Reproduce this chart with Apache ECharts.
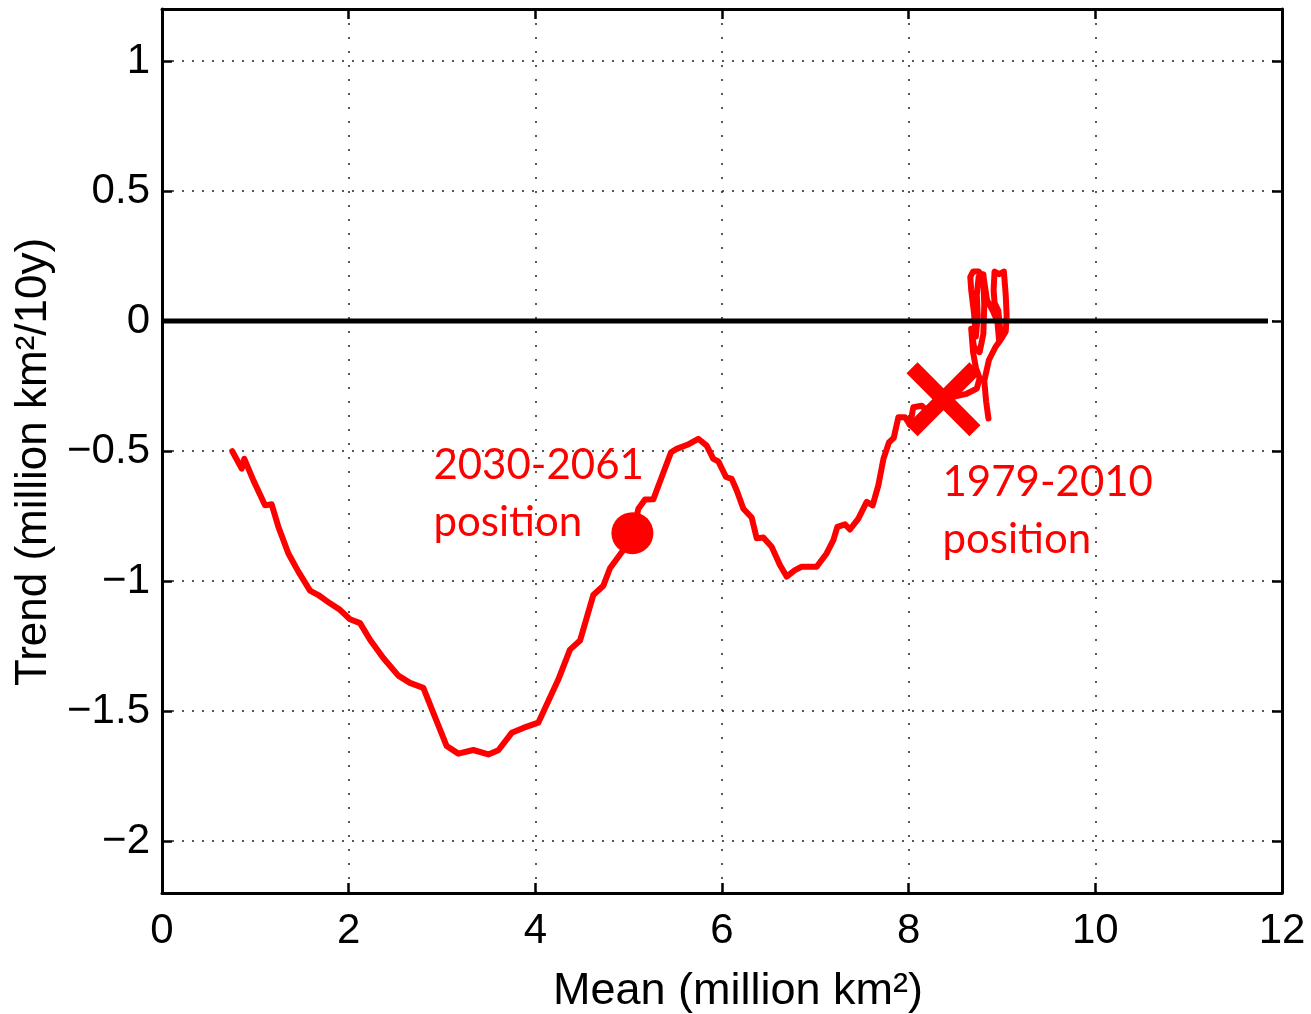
<!DOCTYPE html>
<html>
<head>
<meta charset="utf-8">
<script src="https://cdn.jsdelivr.net/npm/echarts@6/dist/echarts.min.js"></script>
<style>
html,body{margin:0;padding:0;background:#fff;}
#chart{width:1311px;height:1014px;}
</style>
</head>
<body>
<div id="chart"></div>
<script>
// ---- data ----
const meanValues = [
  8.855, 8.83, 8.81, 8.86, 8.93, 8.99, 9.04, 9.05, 9.04, 9.02, 8.97, 8.92, 8.91, 8.92, 8.96, 8.98, 8.97,
  8.95, 8.90, 8.84, 8.81, 8.80, 8.75, 8.73, 8.74, 8.72, 8.70, 8.67, 8.66, 8.69, 8.75, 8.80, 8.81, 8.80,
  8.76, 8.70, 8.67, 8.69, 8.72, 8.76, 8.73, 8.62, 8.50, 8.38, 8.26, 8.18, 8.14, 8.05, 8.015, 7.96, 7.89,
  7.84, 7.79, 7.73, 7.675, 7.614, 7.55, 7.461, 7.371, 7.318, 7.236, 7.193, 7.121, 7.014, 6.854, 6.782,
  6.693, 6.622, 6.532, 6.443, 6.372, 6.318, 6.229, 6.157, 6.104, 6.043, 5.961, 5.907, 5.836, 5.746,
  5.629, 5.514, 5.454, 5.354, 5.264, 5.175, 5.104, 5.043, 4.943, 4.800, 4.729, 4.621, 4.479, 4.371,
  4.246, 4.032, 3.871, 3.747, 3.604, 3.496, 3.336, 3.175, 3.050, 2.907, 2.800, 2.657, 2.532, 2.371,
  2.229, 2.122, 2.014, 1.907, 1.800, 1.675, 1.586, 1.461, 1.354, 1.247, 1.175, 1.104, 0.979, 0.882,
  0.854, 0.753
];
const trendValues = [
  -0.375, -0.31, -0.23, -0.15, -0.10, -0.07, -0.04, 0.02, 0.10, 0.19, 0.18, 0.19, 0.12, 0.07, 0.04, -0.03, -0.08,
  0.00, 0.04, 0.08, 0.15, 0.18, 0.17, 0.10, 0.02, -0.06, 0.03, 0.12, 0.17, 0.19, 0.19, 0.17, 0.06, -0.05,
  -0.12, -0.10, -0.03, -0.12, -0.18, -0.22, -0.26, -0.28, -0.29, -0.31, -0.33, -0.34, -0.326, -0.332, -0.40, -0.37, -0.37,
  -0.45, -0.466, -0.53, -0.632, -0.709, -0.696, -0.760, -0.802, -0.782, -0.792, -0.843, -0.894, -0.945, -0.945, -0.958,
  -0.983, -0.939, -0.868, -0.833, -0.836, -0.756, -0.722, -0.651, -0.607, -0.600, -0.540, -0.530, -0.479, -0.453,
  -0.476, -0.492, -0.505, -0.600, -0.686, -0.687, -0.722, -0.815, -0.881, -0.951, -1.018, -1.054, -1.229, -1.264,
  -1.379, -1.545, -1.565, -1.584, -1.651, -1.667, -1.650, -1.664, -1.635, -1.507, -1.411, -1.392, -1.364, -1.296,
  -1.226, -1.162, -1.147, -1.111, -1.086, -1.054, -1.037, -0.964, -0.894, -0.792, -0.705, -0.709, -0.613, -0.530,
  -0.568, -0.501
];
const position1979 = [8.373, -0.301];
const position2030 = [5.04, -0.816];
const zeroLine = [[0, 0], [11.85, 0]];
const xTicks = [0, 2, 4, 6, 8, 10, 12];
const yTicks = [-2, -1.5, -1, -0.5, 0, 0.5, 1];
const label1979 = ['1979-2010', 'position'];
const label2030 = ['2030-2061', 'position'];
const xTitle = 'Mean (million km²)';
const yTitle = 'Trend (million km²/10y)';

// ---- chart ----
const curveData = meanValues.map((m, i) => [m, trendValues[i]]);
const FONT = '"Liberation Sans", Arial, Helvetica, sans-serif';
const fmt = v => {
  if (Math.abs(v * 2 - Math.round(v * 2)) > 1e-6) return '';
  return v < 0 ? '\u2212' + String(-v) : String(v);
};
const frameLine = { show: true, onZero: false, lineStyle: { color: '#000', width: 3 } };
const tick = { show: true, inside: true, length: 10, lineStyle: { color: '#000', width: 2.5 } };

const chart = echarts.init(document.getElementById('chart'));
chart.setOption({
  animation: false,
  backgroundColor: '#fff',
  grid: { left: 162, right: 29, top: 9, bottom: 121, containLabel: false, outerBoundsMode: 'none' },
  xAxis: [
    {
      type: 'value', position: 'bottom', min: 0, max: 12, interval: 2,
      axisLine: frameLine,
      axisTick: Object.assign({}, tick, { customValues: xTicks }),
      axisLabel: { fontSize: 42, margin: 17, color: '#000', fontFamily: FONT, formatter: fmt, customValues: xTicks },
      splitLine: { show: true, lineStyle: { color: '#222', width: 1.5, type: [2, 12] } },
      name: xTitle, nameLocation: 'middle', nameGap: 76,
      nameTextStyle: { fontSize: 45, color: '#000', fontFamily: FONT, padding: [0, 0, 0, 32] }
    },
    {
      type: 'value', position: 'top', min: 0, max: 12, interval: 2,
      axisLine: frameLine, axisTick: tick,
      axisLabel: { show: false }, splitLine: { show: false }
    }
  ],
  yAxis: [
    {
      type: 'value', position: 'left', min: -2.2, max: 1.2, splitNumber: 7,
      axisLine: frameLine,
      axisTick: Object.assign({}, tick, { customValues: yTicks }),
      axisLabel: { fontSize: 42, margin: 12, color: '#000', fontFamily: FONT, formatter: fmt,
                   customValues: yTicks, showMinLabel: true, showMaxLabel: true },
      splitLine: { show: true, lineStyle: { color: '#222', width: 1.5, type: [2, 8] } },
      name: yTitle, nameLocation: 'middle', nameGap: 106,
      nameTextStyle: { fontSize: 44, color: '#000', fontFamily: FONT, padding: [0, 22, 0, 0] }
    },
    {
      type: 'value', position: 'right', min: -2.2, max: 1.2, splitNumber: 7,
      axisLine: frameLine,
      axisTick: Object.assign({}, tick, { customValues: yTicks }),
      axisLabel: { show: false, customValues: yTicks }, splitLine: { show: false }
    }
  ],
  series: [
    {
      type: 'line', data: curveData, symbol: 'none', z: 3,
      lineStyle: { color: '#ff0000', width: 6, cap: 'round', join: 'round' }
    },
    {
      type: 'line', data: zeroLine, symbol: 'none', z: 4,
      lineStyle: { color: '#000', width: 5 }
    },
    {
      type: 'scatter', data: [position2030], symbol: 'circle', symbolSize: 42, z: 5,
      itemStyle: { color: '#ff0000', opacity: 1 }
    },
    {
      type: 'scatter', data: [position1979], z: 5,
      symbol: 'path://M0,15 L15,0 L50,35 L85,0 L100,15 L65,50 L100,85 L85,100 L50,65 L15,100 L0,85 L35,50 Z',
      symbolSize: 74,
      itemStyle: { color: '#ff0000', opacity: 1 }
    }
  ]
});

// annotation texts, anchored to the data points
function addLabels() {
  const p30 = chart.convertToPixel({ xAxisIndex: 0, yAxisIndex: 0 }, position2030);
  const p79 = chart.convertToPixel({ xAxisIndex: 0, yAxisIndex: 0 }, position1979);
  const style = { fill: '#ff0000', fontSize: 42, fontFamily: 'Lato, "Open Sans", sans-serif', verticalAlign: 'middle' };
  const els = [];
  label2030.forEach((t, i) => els.push({ type: 'text', x: p30[0] - 199, y: p30[1] - 68 + i * 57, style: Object.assign({ text: t }, style), z: 10 }));
  label1979.forEach((t, i) => els.push({ type: 'text', x: p79[0] - 1, y: p79[1] + 83 + i * 57, style: Object.assign({ text: t }, style), z: 10 }));
  chart.setOption({ graphic: { elements: els } });
}
addLabels();
</script>
</body>
</html>
